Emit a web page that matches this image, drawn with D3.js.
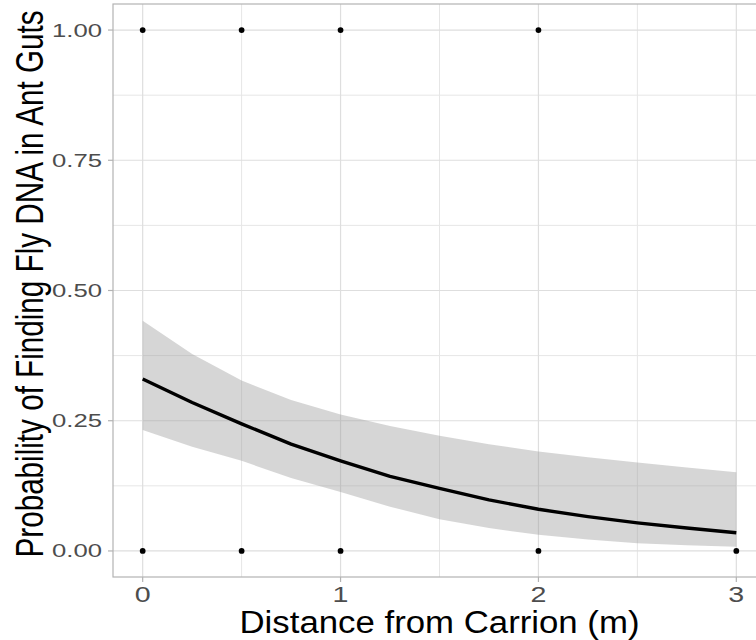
<!DOCTYPE html>
<html>
<head>
<meta charset="utf-8">
<script src="https://cdn.jsdelivr.net/npm/d3@7"></script>
<style>
  html, body { margin: 0; padding: 0; background: #fff; overflow: hidden; }
  svg { display: block; }
  text { font-family: "Liberation Sans", Arial, sans-serif; }
</style>
</head>
<body>
<svg id="chart" width="756" height="640"></svg>
<script>
// ---- data ----
const fitX     = [0, 0.25, 0.5, 0.75, 1, 1.25, 1.5, 1.75, 2, 2.25, 2.5, 2.75, 3];
const fitP     = [0.330, 0.285, 0.244, 0.205, 0.173, 0.143, 0.120, 0.098, 0.080, 0.066, 0.054, 0.044, 0.035];
const fitLower = [0.232, 0.200, 0.173, 0.140, 0.113, 0.085, 0.061, 0.044, 0.031, 0.022, 0.015, 0.011, 0.008];
const fitUpper = [0.442, 0.378, 0.327, 0.290, 0.262, 0.240, 0.221, 0.205, 0.191, 0.180, 0.170, 0.160, 0.151];
const obsX     = [0, 0.5, 1, 2, 0, 0.5, 1, 2, 3];
const obsY     = [1, 1, 1, 1, 0, 0, 0, 0, 0];
const xTicks   = [0, 1, 2, 3];
const xMinor   = [0.5, 1.5, 2.5];
const yTicks   = [0, 0.25, 0.5, 0.75, 1];
const yTickLabels = ["0.00", "0.25", "0.50", "0.75", "1.00"];
const yMinor   = [0.125, 0.375, 0.625, 0.875];
const xTitle = "Distance from Carrion (m)";
const yTitle = "Probability of Finding Fly DNA in Ant Guts";

const svg = d3.select("#chart");
const x = d3.scaleLinear().domain([-0.15, 3.15]).range([113, 766]);
const y = d3.scaleLinear().domain([-0.05, 1.05]).range([577, 4]);
const [x0, x1] = x.range();
const [y0, y1] = y.range();

// grid
const grid = svg.append("g");
grid.selectAll(".xmin").data(xMinor).join("line")
  .attr("x1", d => x(d)).attr("x2", d => x(d)).attr("y1", y0).attr("y2", y1)
  .attr("stroke", "#E6E6E6").attr("stroke-width", 1);
grid.selectAll(".ymin").data(yMinor).join("line")
  .attr("y1", d => y(d)).attr("y2", d => y(d)).attr("x1", x0).attr("x2", x1)
  .attr("stroke", "#E6E6E6").attr("stroke-width", 1);
grid.selectAll(".xmaj").data(xTicks).join("line")
  .attr("x1", d => x(d)).attr("x2", d => x(d)).attr("y1", y0).attr("y2", y1)
  .attr("stroke", "#DEDEDE").attr("stroke-width", 1.2);
grid.selectAll(".ymaj").data(yTicks).join("line")
  .attr("y1", d => y(d)).attr("y2", d => y(d)).attr("x1", x0).attr("x2", x1)
  .attr("stroke", "#DEDEDE").attr("stroke-width", 1.2);

// ribbon
const fit = fitX.map((d, i) => ({x: d, p: fitP[i], lo: fitLower[i], hi: fitUpper[i]}));
svg.append("path").datum(fit)
  .attr("d", d3.area().x(d => x(d.x)).y0(d => y(d.lo)).y1(d => y(d.hi)))
  .attr("fill", "#999999").attr("fill-opacity", 0.4);

// line
svg.append("path").datum(fit)
  .attr("d", d3.line().x(d => x(d.x)).y(d => y(d.p)))
  .attr("fill", "none").attr("stroke", "#000").attr("stroke-width", 3.4)
  .attr("stroke-linejoin", "round");

// points
svg.append("g").selectAll("circle").data(obsX.map((d, i) => [d, obsY[i]])).join("circle")
  .attr("cx", d => x(d[0])).attr("cy", d => y(d[1])).attr("r", 2.9).attr("fill", "#000");

// panel border
svg.append("rect").attr("x", x0).attr("y", y1).attr("width", x1 - x0).attr("height", y0 - y1)
  .attr("fill", "none").attr("stroke", "#B3B3B3").attr("stroke-width", 1.2);

// ticks
svg.append("g").selectAll("line").data(xTicks).join("line")
  .attr("x1", d => x(d)).attr("x2", d => x(d)).attr("y1", y0).attr("y2", y0 + 5)
  .attr("stroke", "#B3B3B3").attr("stroke-width", 1.2);
svg.append("g").selectAll("line").data(yTicks).join("line")
  .attr("y1", d => y(d)).attr("y2", d => y(d)).attr("x1", x0).attr("x2", x0 - 5)
  .attr("stroke", "#B3B3B3").attr("stroke-width", 1.2);

// tick labels
svg.append("g").selectAll("text").data(xTicks).join("text")
  .attr("transform", d => `translate(${x(d)},602) scale(1.3,1)`)
  .attr("text-anchor", "middle").attr("font-size", 22).attr("fill", "#4D4D4D")
  .text(d => d3.format("d")(d));
svg.append("g").selectAll("text").data(yTicks).join("text")
  .attr("x", 102).attr("y", d => y(d) + 6.5)
  .attr("text-anchor", "end").attr("font-size", 17.7).attr("fill", "#4D4D4D")
  .attr("textLength", 50).attr("lengthAdjust", "spacingAndGlyphs")
  .text((d, i) => yTickLabels[i]);

// titles
svg.append("text")
  .attr("x", (x0 + x1) / 2).attr("y", 633)
  .attr("text-anchor", "middle").attr("font-size", 31).attr("fill", "#000")
  .attr("textLength", 400).attr("lengthAdjust", "spacingAndGlyphs")
  .text(xTitle);
svg.append("text")
  .attr("transform", "translate(43,284) rotate(-90) scale(1,1.32)")
  .attr("text-anchor", "middle").attr("font-size", 29.5).attr("fill", "#000")
  .attr("textLength", 547).attr("lengthAdjust", "spacingAndGlyphs")
  .text(yTitle);
</script>
</body>
</html>
